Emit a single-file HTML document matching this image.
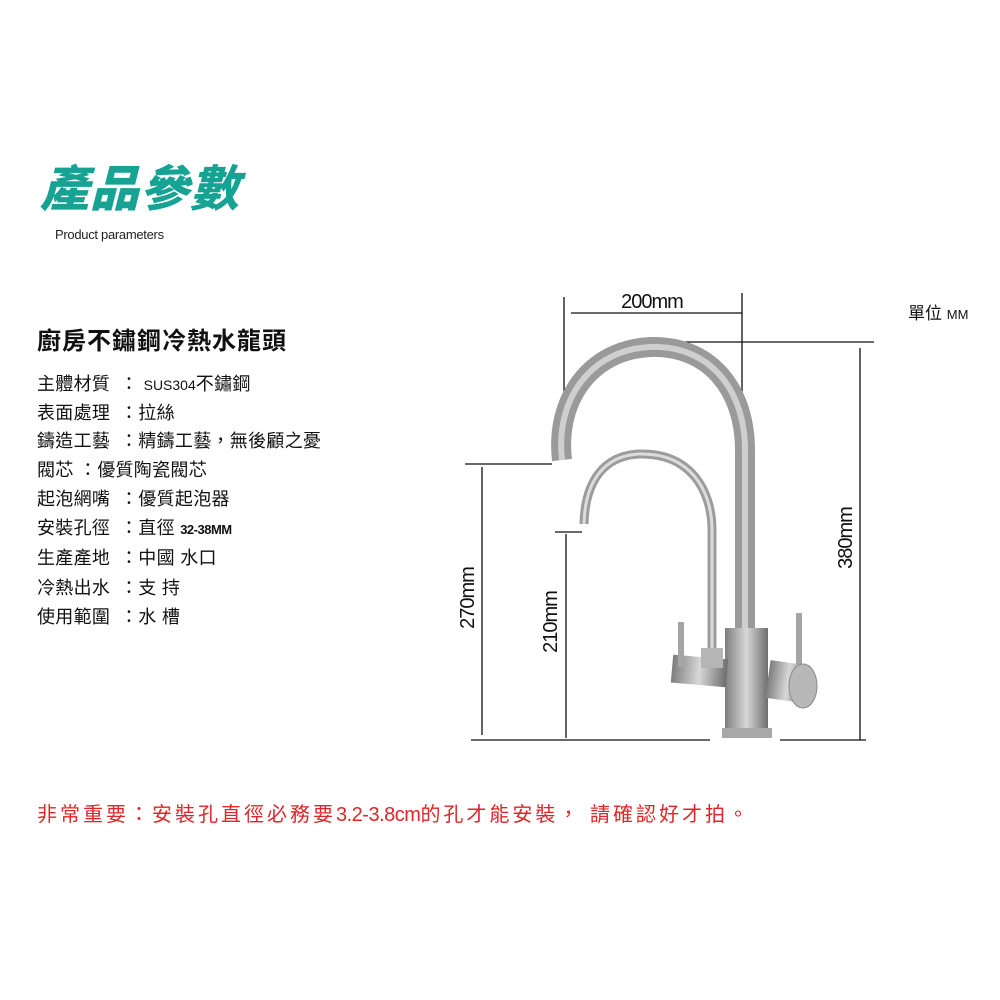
<!DOCTYPE html>
<html><head><meta charset="utf-8"><style>
body{margin:0;width:1000px;height:1000px;background:#fff;position:relative;overflow:hidden;font-family:"Liberation Sans","Noto Sans CJK TC",sans-serif;color:#111}
.a{position:absolute;white-space:nowrap}
.l{font-size:18px;left:37px;line-height:20px;letter-spacing:0.3px}
.c{position:absolute;left:83px}
</style></head><body>
<div class="a" style="left:40px;top:160px;font-size:49px;font-weight:900;font-style:italic;color:#17a394;letter-spacing:1px;line-height:60px">產品參數</div>
<div class="a" style="left:55px;top:227px;font-size:13px;color:#222;letter-spacing:-0.3px">Product parameters</div>
<div class="a" style="left:37px;top:328px;font-size:24px;font-weight:bold;line-height:28px;letter-spacing:1px">廚房不鏽鋼冷熱水龍頭</div>
<div class="a l" style="top:374px">主體材質<span class="c">： <span style="font-size:14px;letter-spacing:0">SUS304</span>不鏽鋼</span></div>
<div class="a l" style="top:403px">表面處理<span class="c">：拉絲</span></div>
<div class="a l" style="top:431px">鑄造工藝<span class="c">：精鑄工藝，無後顧之憂</span></div>
<div class="a l" style="top:460px">閥芯 ：優質陶瓷閥芯</div>
<div class="a l" style="top:489px">起泡網嘴<span class="c">：優質起泡器</span></div>
<div class="a l" style="top:518px">安裝孔徑<span class="c">：直徑 <span style="font-size:13px;font-weight:bold;letter-spacing:-0.5px">32-38MM</span></span></div>
<div class="a l" style="top:548px">生產產地<span class="c">：中國 水口</span></div>
<div class="a l" style="top:578px">冷熱出水<span class="c">：支 持</span></div>
<div class="a l" style="top:607px">使用範圍<span class="c">：水 槽</span></div>
<div class="a" style="left:37px;top:803px;font-size:20px;color:#e0262a;line-height:24px;letter-spacing:3px">非常重要：安裝孔直徑必務要<span style="letter-spacing:-0.5px">3.2-3.8cm</span>的孔才能安裝， 請確認好才拍。</div>
<div class="a" style="left:908px;top:299px;font-size:17px">單位 <span style="font-size:13px">MM</span></div>
<svg class="a" style="left:0;top:0" width="1000" height="1000">
<defs>
<linearGradient id="g" x1="0" x2="1"><stop offset="0" stop-color="#7d7d7d"/><stop offset="0.5" stop-color="#d8d8d8"/><stop offset="1" stop-color="#6e6e6e"/></linearGradient>
</defs>
<g stroke="#111" stroke-width="1.3" fill="none">
<line x1="564" y1="297" x2="564" y2="405"/><line x1="742" y1="293" x2="742" y2="400"/>
<line x1="571" y1="313" x2="742" y2="313"/>
<line x1="677" y1="342" x2="874" y2="342"/><line x1="860" y1="348" x2="860" y2="740"/>
<line x1="471" y1="740" x2="710" y2="740"/><line x1="780" y1="740" x2="866" y2="740"/>
<line x1="465" y1="464" x2="552" y2="464"/><line x1="482" y1="467" x2="482" y2="735"/>
<line x1="555" y1="532" x2="582" y2="532"/><line x1="566" y1="534" x2="566" y2="738"/>
</g>
<g font-family="Liberation Sans,sans-serif" font-size="20" fill="#111" letter-spacing="-1">
<text x="652" y="308" text-anchor="middle">200mm</text>
<text transform="translate(852,538) rotate(-90)" text-anchor="middle">380mm</text>
<text transform="translate(474,598) rotate(-90)" text-anchor="middle">270mm</text>
<text transform="translate(557,622) rotate(-90)" text-anchor="middle">210mm</text>
</g>
<path d="M562 460 C555 400 590 350 650 347 C710 345 745 390 745 450 L745 640" stroke="#9a9a9a" stroke-width="20" fill="none"/>
<path d="M562 460 C555 400 590 350 650 347 C710 345 745 390 745 450 L745 640" stroke="#cfcfcf" stroke-width="6" fill="none"/>
<path d="M584 524 C585 480 605 455 640 454 C690 453 712 490 712 530 L712 655" stroke="#9c9c9c" stroke-width="9" fill="none"/>
<path d="M584 524 C585 480 605 455 640 454 C690 453 712 490 712 530 L712 655" stroke="#dcdcdc" stroke-width="3" fill="none"/>
<rect x="725" y="628" width="43" height="105" fill="url(#g)"/>
<rect x="722" y="728" width="50" height="10" fill="#a8a8a8"/>
<rect x="672" y="657" width="55" height="28" fill="url(#g)" transform="rotate(5 700 670)"/>
<rect x="701" y="648" width="22" height="20" fill="#b5b5b5"/>
<rect x="678" y="622" width="6" height="45" fill="#a5a5a5"/>
<rect x="796" y="613" width="6" height="55" fill="#a5a5a5"/>
<rect x="768" y="663" width="40" height="38" fill="url(#g)" transform="rotate(8 790 680)"/>
<ellipse cx="803" cy="686" rx="14" ry="22" fill="#b8b8b8" stroke="#8a8a8a"/>
</svg>
</body></html>
